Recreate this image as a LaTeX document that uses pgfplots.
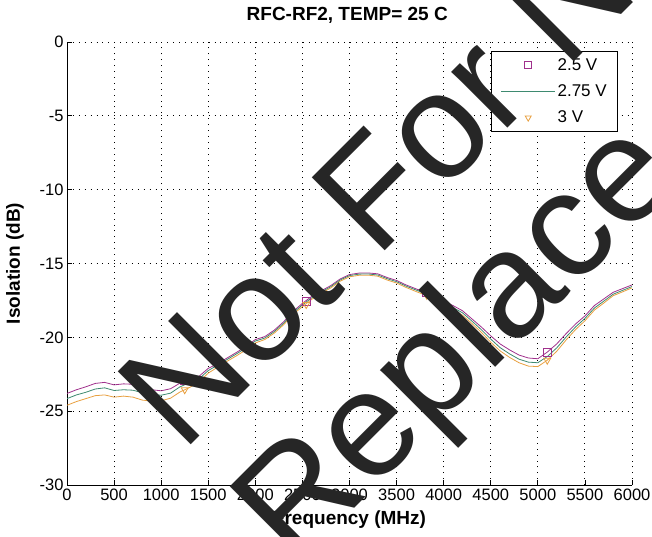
\documentclass[border=0pt]{standalone}
\usepackage{fontspec}
\setmainfont{Liberation Sans}
\usepackage{pgfplots}
\usepackage{pgfplotstable}
\pgfplotsset{compat=1.18}
\definecolor{purp}{RGB}{160,48,140}
\definecolor{grn}{RGB}{62,138,112}
\definecolor{org}{RGB}{232,160,64}
\pgfplotstableread{
x p g o
0 -23.80 -24.15 -24.60
100 -23.55 -23.90 -24.35
200 -23.35 -23.72 -24.15
300 -23.12 -23.50 -23.95
400 -23.05 -23.42 -23.90
500 -23.22 -23.60 -24.05
600 -23.15 -23.55 -23.98
700 -23.18 -23.58 -24.05
800 -23.38 -23.75 -24.25
900 -23.55 -23.88 -24.32
1000 -23.62 -23.92 -24.30
1100 -23.48 -23.78 -24.12
1200 -23.10 -23.35 -23.70
1300 -22.88 -23.08 -23.40
1400 -22.65 -22.82 -23.05
1500 -22.10 -22.25 -22.42
1600 -21.78 -21.88 -22.02
1700 -21.40 -21.50 -21.62
1800 -21.02 -21.12 -21.25
1900 -20.62 -20.72 -20.85
2000 -20.15 -20.25 -20.38
2100 -19.95 -20.05 -20.15
2200 -19.52 -19.62 -19.72
2300 -18.95 -19.05 -19.15
2400 -18.25 -18.35 -18.45
2500 -17.70 -17.80 -17.92
2600 -17.22 -17.32 -17.42
2700 -16.85 -16.93 -17.02
2800 -16.50 -16.58 -16.66
2900 -16.05 -16.12 -16.20
3000 -15.75 -15.82 -15.90
3100 -15.65 -15.72 -15.80
3200 -15.64 -15.71 -15.79
3300 -15.70 -15.78 -15.86
3400 -15.95 -16.03 -16.12
3500 -16.15 -16.23 -16.32
3600 -16.45 -16.53 -16.62
3700 -16.70 -16.78 -16.88
3800 -16.95 -17.03 -17.13
3900 -17.15 -17.25 -17.36
4000 -17.55 -17.66 -17.78
4100 -17.85 -17.98 -18.12
4200 -18.20 -18.34 -18.50
4300 -18.75 -18.90 -19.06
4400 -19.30 -19.48 -19.66
4500 -19.90 -20.12 -20.33
4600 -20.45 -20.70 -20.92
4700 -20.85 -21.12 -21.36
4800 -21.20 -21.48 -21.72
4900 -21.40 -21.68 -21.95
5000 -21.45 -21.72 -21.98
5100 -21.00 -21.30 -21.55
5200 -20.45 -20.72 -20.95
5300 -19.75 -19.98 -20.18
5400 -19.10 -19.30 -19.48
5500 -18.55 -18.72 -18.88
5600 -17.85 -18.02 -18.16
5700 -17.40 -17.55 -17.68
5800 -16.95 -17.08 -17.18
5900 -16.70 -16.82 -16.92
6000 -16.45 -16.56 -16.65
}\datatable
\begin{document}
\begin{tikzpicture}[x=1pt,y=1pt]
\path[use as bounding box] (0,0) rectangle (652,536);
\clip (0,0) rectangle (652,536);
\begin{axis}[
  at={(67pt,51pt)}, anchor=south west,
  scale only axis, width=565pt, height=443pt,
  xmin=0, xmax=6000, ymin=-30, ymax=0,
  xtick={0,500,1000,1500,2000,2500,3000,3500,4000,4500,5000,5500,6000},
  xticklabels={0,500,1000,1500,2000,2500,3000,3500,4000,4500,5000,5500,6000},
  ytick={-30,-25,-20,-15,-10,-5,0},
  yticklabels={-30,-25,-20,-15,-10,-5,0},
  axis x line*=bottom, axis y line*=left,
  axis line style={black, line width=0.9pt},
  tick align=inside, major tick length=5pt,
  tick style={black, line width=0.8pt},
  tick label style={font=\fontsize{16.5}{17}\selectfont},
  grid=major,
  major grid style={black, line width=0.9pt, dash pattern=on 0.9pt off 5pt},
  title={RFC-RF2, TEMP= 25 C},
  title style={font=\bfseries\fontsize{19}{20}\selectfont, at={(axis description cs:0.496,1.034)}, anchor=base, inner sep=0pt},
  xlabel={Frequency (MHz)},
  xlabel style={font=\bfseries\fontsize{19}{20}\selectfont, at={(axis description cs:0.5,-0.058)}, anchor=north, inner sep=0pt},
  ylabel={Isolation (dB)},
  ylabel style={font=\bfseries\fontsize{19}{20}\selectfont, at={(axis description cs:-0.092,0.5)}, anchor=center, inner sep=0pt},
  legend style={at={(axis description cs:0.9755,0.98)}, anchor=north east, draw=black, line width=0.8pt, fill=white,
    font=\fontsize{17}{17}\selectfont, inner xsep=9pt, inner ysep=5pt, row sep=9pt},
  legend cell align=left,
  legend image code/.code={\draw[mark repeat=2,mark phase=2,#1] plot coordinates {(0pt,0pt) (27pt,0pt) (54pt,0pt)};},
]
\addplot[color=purp, line width=0.8pt, forget plot] table[x=x, y=p] {\datatable};
\addplot[color=grn, line width=0.8pt, forget plot] table[x=x, y=g] {\datatable};
\addplot[color=org, line width=0.8pt, forget plot] table[x=x, y=o] {\datatable};
\addplot[only marks, mark=square, mark size=4pt, color=purp, line width=0.8pt, forget plot] coordinates {(1250,-22.95) (2540,-17.55) (3820,-16.98) (5100,-21.00)};
\addplot[only marks, mark=triangle, mark options={rotate=180}, mark size=4pt, color=org, line width=0.8pt, forget plot] coordinates {(1250,-23.55) (2540,-17.78) (3820,-17.15) (5100,-21.55)};
\addlegendimage{only marks, mark=square, mark size=3.5pt, color=purp, line width=0.8pt}
\addlegendentry{2.5 V}
\addlegendimage{color=grn, line width=0.8pt}
\addlegendentry{2.75 V}
\addlegendimage{only marks, mark=triangle, mark options={rotate=180}, mark size=3.5pt, color=org, line width=0.8pt}
\addlegendentry{3 V}
\end{axis}
\node[rotate=45, anchor=base west, inner sep=0pt, font=\fontsize{150}{150}\selectfont, text=black!85] at (182,82) {Not For New};
\node[rotate=45, anchor=base west, inner sep=0pt, font=\fontsize{150}{150}\selectfont, text=black!85] at (294,-33) {Replace};
\end{tikzpicture}
\end{document}
